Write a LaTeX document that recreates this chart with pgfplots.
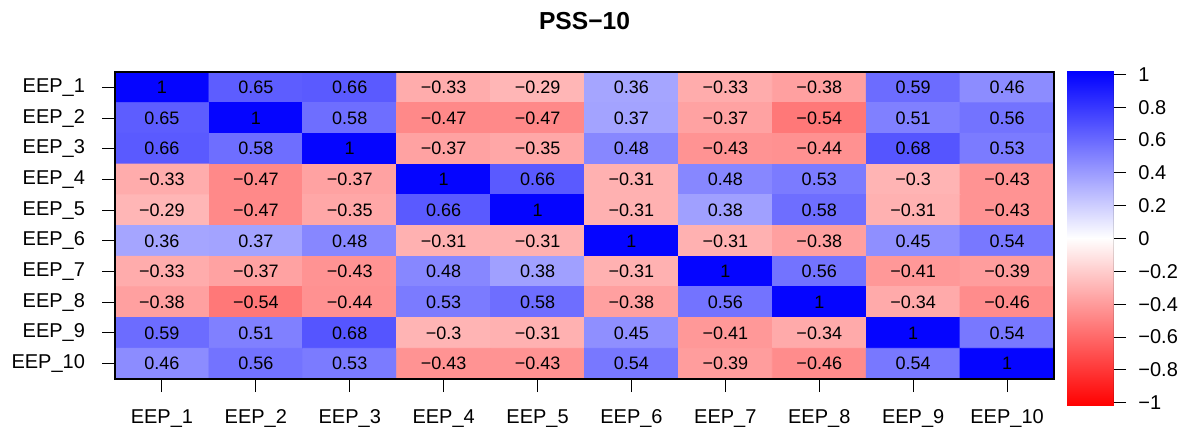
\documentclass[border=0pt]{standalone}
\usepackage{fontspec}
\setmainfont{Liberation Sans}
\usepackage{pgfplots}
\usepackage{pgfplotstable}
\pgfplotsset{compat=1.18}
\pgfplotstableread{
x y v t
1 1 1 1
2 1 0.65 0.65
3 1 0.66 0.66
4 1 -0.33 −0.33
5 1 -0.29 −0.29
6 1 0.36 0.36
7 1 -0.33 −0.33
8 1 -0.38 −0.38
9 1 0.59 0.59
10 1 0.46 0.46
1 2 0.65 0.65
2 2 1 1
3 2 0.58 0.58
4 2 -0.47 −0.47
5 2 -0.47 −0.47
6 2 0.37 0.37
7 2 -0.37 −0.37
8 2 -0.54 −0.54
9 2 0.51 0.51
10 2 0.56 0.56
1 3 0.66 0.66
2 3 0.58 0.58
3 3 1 1
4 3 -0.37 −0.37
5 3 -0.35 −0.35
6 3 0.48 0.48
7 3 -0.43 −0.43
8 3 -0.44 −0.44
9 3 0.68 0.68
10 3 0.53 0.53
1 4 -0.33 −0.33
2 4 -0.47 −0.47
3 4 -0.37 −0.37
4 4 1 1
5 4 0.66 0.66
6 4 -0.31 −0.31
7 4 0.48 0.48
8 4 0.53 0.53
9 4 -0.3 −0.3
10 4 -0.43 −0.43
1 5 -0.29 −0.29
2 5 -0.47 −0.47
3 5 -0.35 −0.35
4 5 0.66 0.66
5 5 1 1
6 5 -0.31 −0.31
7 5 0.38 0.38
8 5 0.58 0.58
9 5 -0.31 −0.31
10 5 -0.43 −0.43
1 6 0.36 0.36
2 6 0.37 0.37
3 6 0.48 0.48
4 6 -0.31 −0.31
5 6 -0.31 −0.31
6 6 1 1
7 6 -0.31 −0.31
8 6 -0.38 −0.38
9 6 0.45 0.45
10 6 0.54 0.54
1 7 -0.33 −0.33
2 7 -0.37 −0.37
3 7 -0.43 −0.43
4 7 0.48 0.48
5 7 0.38 0.38
6 7 -0.31 −0.31
7 7 1 1
8 7 0.56 0.56
9 7 -0.41 −0.41
10 7 -0.39 −0.39
1 8 -0.38 −0.38
2 8 -0.54 −0.54
3 8 -0.44 −0.44
4 8 0.53 0.53
5 8 0.58 0.58
6 8 -0.38 −0.38
7 8 0.56 0.56
8 8 1 1
9 8 -0.34 −0.34
10 8 -0.46 −0.46
1 9 0.59 0.59
2 9 0.51 0.51
3 9 0.68 0.68
4 9 -0.3 −0.3
5 9 -0.31 −0.31
6 9 0.45 0.45
7 9 -0.41 −0.41
8 9 -0.34 −0.34
9 9 1 1
10 9 0.54 0.54
1 10 0.46 0.46
2 10 0.56 0.56
3 10 0.53 0.53
4 10 -0.43 −0.43
5 10 -0.43 −0.43
6 10 0.54 0.54
7 10 -0.39 −0.39
8 10 -0.46 −0.46
9 10 0.54 0.54
10 10 1 1
}\datatable
\pgfplotsset{colormap={rwb}{rgb255=(255,0,0) rgb255=(255,255,255) rgb255=(0,0,255)}}
\begin{document}
\begin{tikzpicture}
\useasboundingbox (0,0) rectangle (596pt,216pt);
\begin{axis}[
  at={(57.5pt,26.5pt)}, anchor=south west,
  scale only axis, width=469.5pt, height=153.5pt,
  xmin=0.5, xmax=10.5, ymin=0.5, ymax=10.5,
  y dir=reverse,
  xtick={1,...,10}, ytick={1,...,10},
  xticklabels={EEP\_1,EEP\_2,EEP\_3,EEP\_4,EEP\_5,EEP\_6,EEP\_7,EEP\_8,EEP\_9,EEP\_10},
  yticklabels={EEP\_1,EEP\_2,EEP\_3,EEP\_4,EEP\_5,EEP\_6,EEP\_7,EEP\_8,EEP\_9,EEP\_10},
  tick align=outside, major tick length=6.5pt,
  xtick pos=bottom, ytick pos=left,
  tick style={black, line width=0.5pt},
  axis line style={black, line width=0.6pt},
  ticklabel style={font=\fontsize{10}{12}\selectfont},
  xticklabel style={anchor=base, yshift=-15.5pt},
  yticklabel style={anchor=east, xshift=-5pt},
  axis on top,
  colormap name=rwb,
  point meta min=-1.02, point meta max=1.02,
  title={PSS−10},
  title style={font=\bfseries\fontsize{12.3}{14}\selectfont, anchor=base, at={(0.5,1)}, yshift=15pt},
]
\addplot[matrix plot*, mesh/cols=10, point meta=explicit] table[x=x, y=y, meta=v] {\datatable};
\addplot[only marks, mark=none, point meta=explicit symbolic,
  nodes near coords,
  every node near coord/.append style={anchor=center, font=\fontsize{9}{11}\selectfont, text=black}]
  table[x=x, y=y, meta=t] {\datatable};
\end{axis}
% colour key
\begin{axis}[
  at={(533.5pt,13pt)}, anchor=south west,
  scale only axis, width=23pt, height=167.5pt,
  xmin=0, xmax=1, ymin=-1.02, ymax=1.02,
  colormap name=rwb,
  point meta min=-1.02, point meta max=1.02,
  xtick=\empty,
  ytick={-1,-0.8,...,1},
  yticklabels={−1,−0.8,−0.6,−0.4,−0.2,0,0.2,0.4,0.6,0.8,1},
  ytick pos=right, yticklabel pos=right,
  tick align=outside, major tick length=6.5pt,
  tick style={black, line width=0.5pt},
  axis line style={draw=none},
  yticklabel style={anchor=west, inner sep=0pt, xshift=6pt, font=\fontsize{10}{12}\selectfont},
]
\addplot[surf, shader=interp, point meta=y] coordinates {
(0,-1.02) (1,-1.02)

(0,0) (1,0)

(0,1.02) (1,1.02)
};
\draw[black, line width=0.5pt] (axis cs:1,-1) -- (axis cs:1,1);
\end{axis}
\end{tikzpicture}
\end{document}
